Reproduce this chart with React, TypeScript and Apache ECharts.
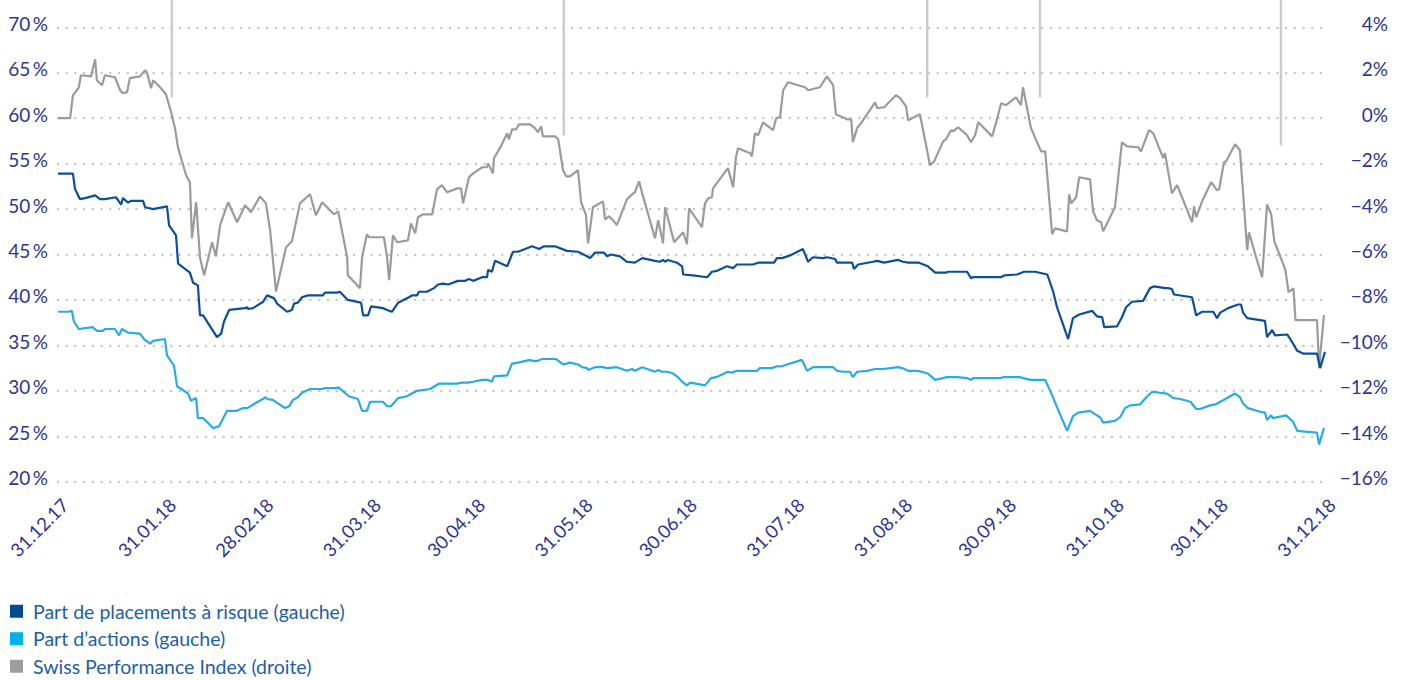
import React, { useEffect, useRef } from "react";
import * as echarts from "echarts";

// x = calendar days since 31.12.2017
const tickDays = [0, 31, 59, 90, 120, 151, 181, 212, 243, 273, 304, 334, 365];
const tickLabels = ["31.12.17", "31.01.18", "28.02.18", "31.03.18", "30.04.18", "31.05.18", "30.06.18", "31.07.18", "31.08.18", "30.09.18", "31.10.18", "30.11.18", "31.12.18"];

const seriesNames = ["Part de placements à risque (gauche)", "Part d’actions (gauche)", "Swiss Performance Index (droite)"];

const riskShare: [number, number][] = [
  [0, 53.9], [4.3, 53.9], [4.9, 52.2], [6.3, 51.1], [7.8, 51.2], [10.7, 51.5], [12.1, 51.1], [13.5, 51.1], [16.7, 51.3], [18.2, 50.5],
  [18.7, 51.2], [20.2, 50.7], [21, 50.9], [24.5, 50.9], [25.1, 50.2], [27.4, 50.0], [31.4, 50.3], [32, 48.2], [34, 47.1], [34.6, 44.0],
  [38, 43.0], [38.9, 41.9], [40.3, 41.6], [40.9, 38.3], [41.8, 38.3], [45.8, 35.9], [47, 36.3], [47.8, 37.6], [49.3, 38.9], [53.9, 39.1],
  [54.5, 39.2], [54.7, 39.0], [56.2, 39.1], [59.1, 39.8], [60.2, 40.5], [62.2, 40.2], [63.1, 39.6], [66, 38.7], [67.4, 38.9], [68, 39.6],
  [69.1, 39.7], [70.3, 40.3], [72, 40.5], [76.3, 40.5], [76.9, 40.8], [80.4, 40.8], [81.2, 40.9], [83.5, 40.0], [87.3, 39.7], [87.9, 38.3],
  [89.3, 38.3], [90.2, 39.3], [93.6, 39.1], [94.8, 38.9], [96.2, 38.7], [98, 39.7], [101.1, 40.3], [102, 40.5], [103.4, 40.5], [104, 40.9],
  [106.3, 40.9], [108.3, 41.3], [109.5, 41.7], [110.9, 41.8], [112.4, 41.7], [115.2, 42.1], [117.3, 42.1], [118.4, 42.3], [119.6, 42.1], [122.2, 42.5],
  [123.6, 42.5], [123.9, 43.3], [125, 43.1], [125.9, 44.3], [129.4, 43.7], [131.1, 45.3], [132.5, 45.3], [136.6, 45.9], [138.6, 45.6], [140, 45.9],
  [143.2, 45.9], [146.6, 45.4], [149.8, 45.3], [152.4, 44.8], [153.3, 44.6], [154.7, 45.2], [157.3, 45.2], [158.2, 44.8], [159.3, 45.0], [161.9, 44.8],
  [163.9, 44.2], [166.2, 44.1], [168.3, 44.6], [172, 44.3], [173.4, 44.2], [174.3, 44.4], [174.9, 44.2], [175.7, 44.4], [178.3, 44.1], [179.8, 43.7],
  [180.1, 42.8], [182.9, 42.7], [187, 42.5], [188.4, 43.1], [189.9, 43.2], [192.7, 43.7], [194.5, 43.5], [195.6, 43.9], [200.2, 43.9], [201.7, 44.1],
  [206.3, 44.1], [207.1, 44.6], [208.6, 44.6], [210.9, 44.9], [214.6, 45.6], [216.1, 44.2], [217.5, 44.7], [220.4, 44.6], [221.6, 44.7], [223.9, 44.5],
  [224.4, 44.1], [228.8, 44.1], [229.3, 43.4], [230.5, 43.9], [234.8, 44.2], [236, 44.3], [238, 44.1], [242, 44.4], [243.4, 44.2], [244.9, 44.1],
  [248, 44.1], [250.6, 43.7], [252.7, 43.0], [255.8, 43.0], [256.4, 43.1], [261.9, 43.1], [263, 42.4], [263.6, 42.5], [271.7, 42.5], [272.6, 42.7],
  [276.3, 42.8], [278.3, 43.1], [281.5, 43.1], [285, 42.8], [286.7, 40.9], [287.8, 39.2], [291, 35.7], [292.4, 38.0], [294.2, 38.4], [297.9, 38.8],
  [299.3, 38.2], [300.8, 38.1], [301.4, 37.0], [305.1, 37.1], [306.5, 38.1], [307.7, 39.2], [309.4, 39.8], [312.6, 39.9], [314.6, 41.3], [315.8, 41.5],
  [318.9, 41.3], [319.8, 41.3], [320.9, 41.2], [321.5, 40.6], [326.7, 40.3], [327.9, 38.3], [329.6, 38.7], [332.8, 38.7], [333.9, 38.0], [334.8, 38.6],
  [337.1, 39.1], [340, 39.5], [340.8, 39.5], [341.4, 38.6], [342.6, 38.0], [347.7, 37.7], [348.3, 35.9], [349.8, 36.7], [350.6, 36.1], [354.1, 36.2],
  [355, 35.7], [357, 34.4], [358.7, 34.1], [362.7, 34.1], [363.6, 32.5], [365, 34.3],
];

const equityShare: [number, number][] = [
  [0, 38.7], [3, 38.7], [4, 38.8], [4.6, 37.6], [6, 36.8], [10, 37.0], [11.2, 36.6], [13, 36.6], [13.5, 36.8], [16.4, 36.8],
  [17.6, 36.1], [18.4, 36.8], [20.2, 36.4], [23.6, 36.3], [24.8, 35.7], [26.5, 35.2], [27.4, 35.5], [30.8, 35.7], [31.4, 33.9], [32.8, 33.1],
  [33.4, 32.8], [34.3, 30.5], [37.5, 29.7], [38.3, 28.9], [39.8, 29.2], [40.3, 27.0], [41.8, 27.0], [44.7, 25.9], [46.4, 26.1], [48.7, 27.8],
  [51.6, 27.8], [53.3, 28.1], [54.5, 28.1], [57.6, 28.8], [59.9, 29.3], [60.2, 29.1], [61.9, 29.0], [65.4, 28.1], [66.6, 28.3], [67.7, 29.0],
  [69.1, 29.3], [70.3, 29.8], [72.6, 30.2], [76.1, 30.2], [76.9, 30.3], [80.4, 30.3], [80.7, 30.4], [83.8, 29.4], [86.4, 29.1], [87.6, 27.8],
  [89, 27.8], [89.9, 28.8], [93.6, 28.8], [94.8, 28.3], [95.9, 28.3], [98, 29.2], [100.5, 29.4], [103.4, 30.0], [107.2, 30.2], [109.8, 30.8],
  [115, 30.8], [116.4, 30.9], [118.1, 30.9], [119.6, 31.0], [122.2, 31.2], [123.9, 31.2], [125, 31.0], [125.6, 31.6], [129.4, 31.7], [130.8, 33.0],
  [132.5, 33.1], [136, 33.4], [136.8, 33.3], [138.3, 33.3], [139.4, 33.5], [143.5, 33.5], [145.5, 32.9], [147.5, 33.1], [149.8, 32.9], [151, 32.6],
  [152.4, 32.5], [152.7, 32.3], [154.7, 32.6], [157, 32.6], [158.2, 32.5], [161, 32.6], [163.9, 32.2], [165.4, 32.4], [166.2, 32.2], [168.3, 32.6],
  [172, 32.1], [172.9, 32.3], [174, 32.1], [175.5, 32.1], [177.2, 31.9], [178.6, 31.5], [180.1, 30.9], [181.2, 30.6], [182.1, 30.9], [186.4, 30.6],
  [188.1, 31.4], [189.6, 31.5], [193, 32.1], [194.2, 32.0], [195.6, 32.2], [201.4, 32.2], [202.2, 32.5], [205.7, 32.5], [207.1, 32.7], [208.6, 32.7],
  [210, 32.9], [214.3, 33.4], [215.8, 32.2], [217.5, 32.6], [223.3, 32.6], [224.4, 32.2], [226.2, 32.1], [228.2, 32.1], [229, 31.5], [230.2, 32.1],
  [233.1, 32.2], [235.4, 32.4], [237.7, 32.4], [242, 32.6], [243.2, 32.5], [244.9, 32.2], [247.8, 32.2], [250.6, 31.9], [252.7, 31.2], [256.1, 31.5],
  [259, 31.5], [261.9, 31.4], [263, 31.2], [263.6, 31.4], [271.4, 31.4], [272.3, 31.5], [277.2, 31.5], [278, 31.4], [280, 31.2], [284.4, 31.2],
  [286.4, 29.5], [287.8, 28.2], [290.7, 25.6], [292.4, 27.2], [293.9, 27.6], [297.3, 27.8], [299.3, 27.3], [300.2, 27.1], [301.1, 26.5], [304.5, 26.7],
  [306, 27.1], [307.4, 28.1], [308.9, 28.4], [311.7, 28.5], [313.8, 29.4], [315.2, 29.9], [319.5, 29.7], [321.3, 29.2], [323.3, 29.1], [326.2, 28.8],
  [327.9, 28.0], [329, 28.0], [331.9, 28.4], [333.4, 28.5], [335.4, 28.9], [339.1, 29.7], [340.5, 29.3], [341.4, 28.6], [342.8, 28.1], [346.3, 27.7],
  [347.7, 27.6], [348.3, 26.8], [349.5, 27.3], [350, 27.0], [353.8, 27.3], [355.8, 26.6], [357, 25.6], [359.3, 25.5], [362.7, 25.4], [363.3, 24.1],
  [364.7, 25.9],
];

const spiPerf: [number, number][] = [
  [0, 0.0], [3.5, 0.0], [4.3, 1.0], [6, 1.36], [6.6, 1.89], [9.5, 1.84], [10.7, 2.59], [11.2, 1.67], [12.7, 1.45], [13.5, 1.89],
  [16.4, 1.8], [17.9, 1.23], [18.7, 1.1], [19.9, 1.14], [20.7, 1.76], [23.6, 1.84], [25.1, 2.11], [25.6, 2.02], [26.8, 1.32], [27.4, 1.67],
  [29.4, 1.36], [31.1, 1.05], [32.6, 0.26], [33.7, -0.44], [34.6, -1.32], [36.9, -2.51], [38, -2.82], [38.6, -5.29], [39.8, -3.7], [40.9, -6.12],
  [42.1, -6.91], [44.4, -5.46], [45.5, -6.08], [46.7, -4.71], [49, -3.7], [51.6, -4.58], [53.9, -3.83], [55.6, -4.14], [58.2, -3.44], [59.9, -3.75],
  [61.1, -4.93], [62.8, -7.63], [65.7, -5.68], [67.4, -5.42], [69.7, -3.75], [72.6, -3.35], [74.3, -4.27], [76.1, -3.7], [79.5, -4.23], [80.7, -4.1],
  [83.3, -6.12], [83.5, -6.91], [87, -7.48], [87.6, -6.12], [89, -5.11], [89.6, -5.24], [93.9, -5.24], [94.8, -6.12], [95.4, -7.13], [96.5, -5.16],
  [97.7, -5.46], [100.8, -5.38], [101.7, -4.63], [102.9, -5.07], [103.7, -4.36], [105.2, -4.23], [107.8, -4.23], [109.2, -3.13], [110.6, -2.95], [112.1, -3.26],
  [115, -3.09], [116.1, -3.09], [116.7, -3.75], [118.4, -2.6], [119.6, -2.43], [122.2, -2.16], [123.6, -2.16], [123.9, -1.99], [125.3, -2.43], [125.6, -1.76],
  [127.3, -1.32], [129.4, -0.66], [129.9, -0.93], [130.8, -0.49], [132, -0.49], [132.8, -0.27], [136, -0.27], [137.4, -0.44], [138.3, -0.62], [139.2, -0.36],
  [139.7, -0.8], [143.2, -0.8], [144.1, -0.93], [145.5, -2.29], [146.4, -2.56], [147.5, -2.56], [149.8, -2.29], [150.7, -3.7], [152.1, -4.27], [152.7, -5.51],
  [154.1, -3.92], [157, -3.66], [157.6, -4.45], [158.7, -4.32], [159.9, -4.49], [161, -4.71], [163.9, -3.57], [165.7, -3.31], [166.2, -3.26], [167.4, -2.78],
  [168.3, -3.31], [172, -5.29], [172.9, -4.49], [174.3, -5.51], [174.9, -3.92], [177.5, -5.46], [180.1, -5.02], [181.2, -5.55], [181.8, -3.97], [185.5, -4.8],
  [186.4, -3.75], [187.3, -3.53], [188.4, -3.48], [188.7, -3.09], [193, -2.2], [194.5, -3.04], [195.3, -1.72], [195.9, -1.32], [199.4, -1.54], [199.9, -1.68],
  [200.8, -0.66], [201.7, -0.75], [203.1, -0.18], [206, -0.53], [206.9, 0.0], [208, 0.04], [208.9, 1.23], [210.3, 1.58], [215.2, 1.36], [216.1, 1.23],
  [219.5, 1.36], [221.5, 1.84], [223.3, 1.45], [224.1, 0.17], [227.3, -0.05], [228.5, -0.05], [229, -1.06], [230.2, -0.44], [231.1, -0.27], [235.4, 0.7],
  [236, 0.44], [238, 0.48], [241.4, 1.01], [242.6, 0.88], [244.3, 0.52], [244.9, -0.09], [248.3, 0.17], [249.8, -0.97], [251.2, -2.07], [252.4, -1.9],
  [255, -1.02], [255.8, -0.93], [257.3, -0.53], [257.9, -0.57], [259.3, -0.4], [261.9, -0.75], [263, -1.06], [264.2, -0.75], [265.1, -0.18], [269.1, -0.8],
  [270.2, -0.22], [271.7, 0.66], [273.1, 0.57], [276, 0.92], [277.4, 0.57], [278, 1.36], [280.3, -0.44], [283.2, -1.46], [284.4, -1.46], [286.4, -5.11],
  [287.2, -4.85], [290.7, -4.98], [291.3, -3.35], [291.9, -3.75], [293.3, -3.48], [294.2, -2.6], [297.3, -2.69], [298.2, -4.1], [299.3, -4.49], [300.5, -4.58],
  [301.1, -4.98], [304.5, -3.92], [306.5, -1.06], [308, -1.24], [311.2, -1.28], [312, -1.46], [314.3, -0.53], [315.5, -0.66], [318.4, -1.76], [318.9, -1.54],
  [320.9, -3.31], [322.4, -2.95], [326.7, -4.58], [327.3, -3.88], [327.9, -4.36], [329.6, -3.66], [332.2, -2.82], [333.9, -3.17], [334.5, -3.13], [335.9, -1.94],
  [336.5, -1.9], [339.1, -1.15], [340.5, -1.41], [342.6, -5.81], [343.1, -5.02], [345.4, -6.25], [346.9, -7.0], [348.3, -3.8], [349.5, -4.23], [350.4, -5.42],
  [352.2, -6.12], [353.6, -6.69], [354.5, -7.66], [355.9, -7.49], [356.5, -8.89], [362.7, -8.89], [363.3, -11.0], [364.7, -8.67],
];

// event markers: day and lower end (left-axis value)
const markerDays = [32.8, 145.7, 250.4, 282.9, 352.3];
const markerEnds = [62.3, 58.1, 62.3, 62.3, 57.0];

const AXIS_TEXT = "#2e3591";
const FONT = "Lato, 'Noto Sans', sans-serif";

export default function App() {
  const ref = useRef<HTMLDivElement>(null);
  useEffect(() => {
    document.body.style.margin = "0";
    const chart = echarts.init(ref.current!, null, { renderer: "svg" });
    const gridLine = { show: true, lineStyle: { color: "#c6c6c6", width: 2.4, type: [0.01, 8.7], cap: "round" } };
    chart.setOption({
      animation: false,
      backgroundColor: "#ffffff",
      textStyle: { fontFamily: FONT },
      grid: { left: 58, right: 76, top: 27.3, bottom: 198.3, containLabel: false, outerBoundsMode: "none" },
      legend: {
        orient: "vertical",
        left: 10,
        top: 600,
        height: 80,
        padding: 0,
        itemWidth: 13,
        itemHeight: 13,
        itemGap: 5,
        icon: "rect",
        selectedMode: false,
        textStyle: { fontSize: 19.5, lineHeight: 22.5, color: "#1f5ea8", fontFamily: FONT, padding: [0, 0, 0, 5] },
        data: [
          { name: seriesNames[0], itemStyle: { color: "#004b93" } },
          { name: seriesNames[1], itemStyle: { color: "#00b1ea" } },
          { name: seriesNames[2], itemStyle: { color: "#9d9d9c" } },
        ],
      },
      xAxis: {
        type: "value",
        min: 0,
        max: 365,
        axisLine: { show: false },
        axisTick: { show: false },
        splitLine: { show: false },
        axisLabel: {
          customValues: tickDays,
          rotate: 45,
          margin: 27,
          fontSize: 18.5,
          color: AXIS_TEXT,
          fontFamily: FONT,
          padding: [0, -10, 0, 0],
          formatter: (v: number) => {
            const i = tickDays.indexOf(Math.round(v));
            return i >= 0 ? tickLabels[i] : "";
          },
        },
      },
      yAxis: [
        {
          type: "value",
          min: 20,
          max: 70,
          interval: 5,
          position: "left",
          axisLine: { show: false },
          axisTick: { show: false },
          splitLine: gridLine,
          axisLabel: {
            margin: 10,
            fontSize: 19,
            color: AXIS_TEXT,
            fontFamily: FONT,
            verticalAlign: "bottom",
            lineHeight: 8,
            formatter: (v: number) => `${v}\u2009%`,
          },
        },
        {
          type: "value",
          min: -16,
          max: 4,
          interval: 2,
          position: "right",
          axisLine: { show: false },
          axisTick: { show: false },
          splitLine: { show: false },
          axisLabel: {
            margin: 63,
            align: "right",
            fontSize: 19,
            color: AXIS_TEXT,
            fontFamily: FONT,
            verticalAlign: "bottom",
            lineHeight: 8,
            formatter: (v: number) => (v < 0 ? `\u2212${Math.abs(v)}%` : `${v}%`),
          },
        },
      ],
      series: [
        {
          type: "custom",
          yAxisIndex: 0,
          silent: true,
          z: 1,
          data: markerDays.map((d, i) => [d, markerEnds[i]]),
          renderItem: (params: any, api: any) => {
            const p = api.coord([api.value(0), api.value(1)]);
            return {
              type: "line",
              shape: { x1: p[0], y1: 0, x2: p[0], y2: p[1] },
              style: { stroke: "#cbcbcb", lineWidth: 2.4 },
            };
          },
        },
        {
          name: seriesNames[2],
          type: "line",
          yAxisIndex: 1,
          data: spiPerf,
          symbol: "none",
          z: 2,
          lineStyle: { color: "#9b9b9b", width: 2.2 },
          itemStyle: { color: "#9d9d9c" },
        },
        {
          name: seriesNames[0],
          type: "line",
          yAxisIndex: 0,
          data: riskShare,
          symbol: "none",
          z: 3,
          lineStyle: { color: "#0b4f98", width: 2.2 },
          itemStyle: { color: "#004b93" },
        },
        {
          name: seriesNames[1],
          type: "line",
          yAxisIndex: 0,
          data: equityShare,
          symbol: "none",
          z: 3,
          lineStyle: { color: "#2aabe3", width: 2.2 },
          itemStyle: { color: "#00b1ea" },
        },
      ],
    });
    return () => chart.dispose();
  }, []);
  return <div ref={ref} style={{ width: 1401, height: 680 }} />;
}
